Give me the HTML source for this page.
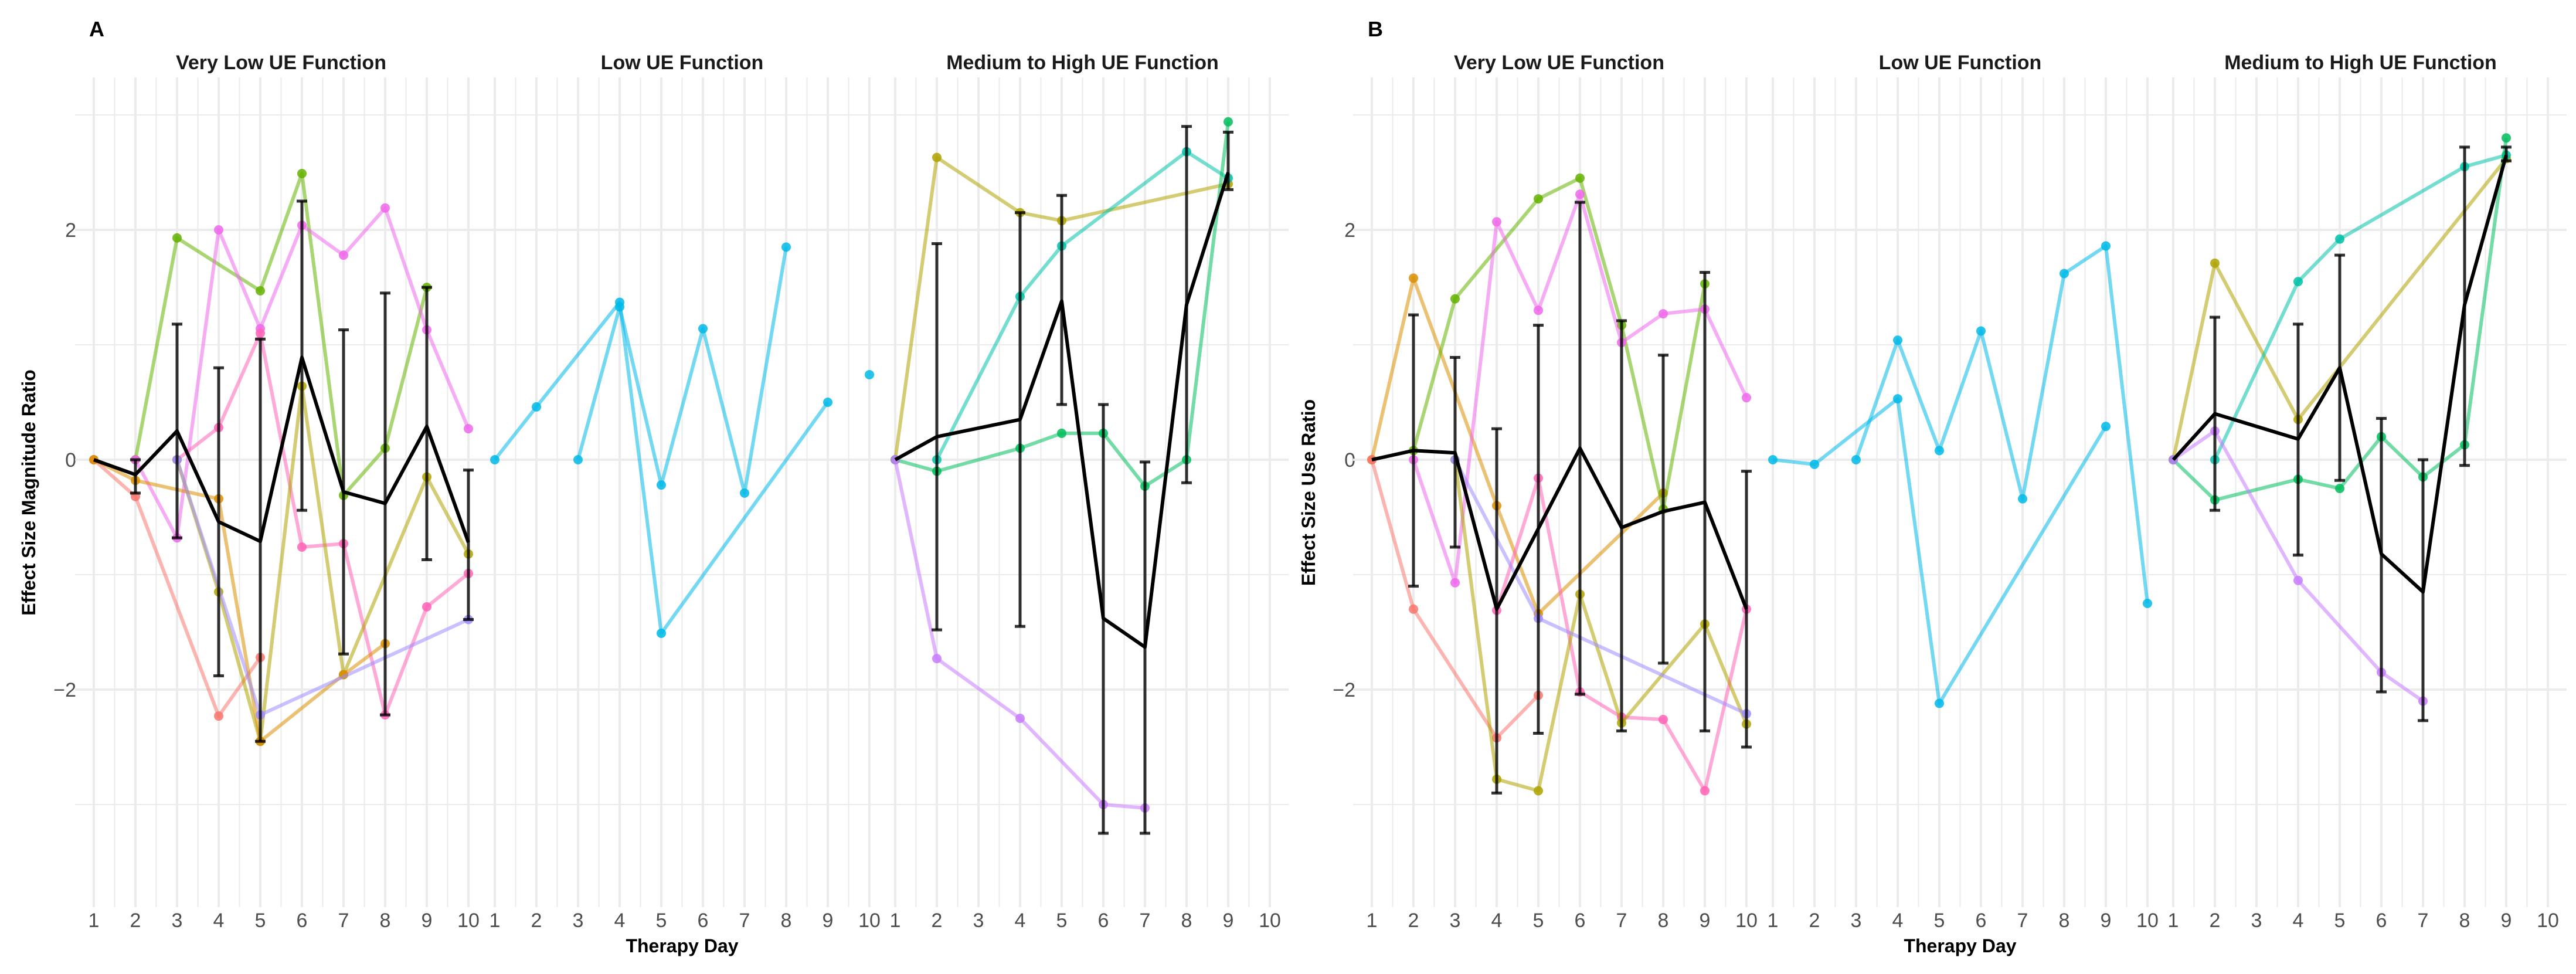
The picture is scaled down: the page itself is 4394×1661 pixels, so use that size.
<!DOCTYPE html>
<html><head><meta charset="utf-8"><style>
html,body{margin:0;padding:0;background:#fff;}
svg{display:block;font-family:"Liberation Sans",sans-serif;}
</style></head><body>
<svg id="chart" width="4394" height="1661" viewBox="0 0 4394 1661" xmlns="http://www.w3.org/2000/svg"></svg>
<script>
const panelLabels = ["A","B"];
const yTitles = ["Effect Size Magnitude Ratio","Effect Size Use Ratio"];
const facetTitles = ["Very Low UE Function","Low UE Function","Medium to High UE Function"];
const dayTicks = [1,2,3,4,5,6,7,8,9,10];
const yTickVals = [-2,0,2];
const yTickLabels = ["\u22122","0","2"];

// Panel A, facet 1
const A1 = [
 {c:"#64B200", d:[2,3,5,6,7,8,9], v:[0,1.93,1.47,2.49,-0.31,0.1,1.5]},
 {c:"#EF67EB", d:[2,3,4,5,6,7,8,9,10], v:[0,-0.68,2.0,1.14,2.04,1.78,2.19,1.13,0.27]},
 {c:"#FF63B6", d:[3,4,5,6,7,8,9,10], v:[0,0.28,1.1,-0.76,-0.73,-2.22,-1.28,-0.99]},
 {c:"#F8766D", d:[1,2,4,5], v:[0,-0.32,-2.23,-1.72]},
 {c:"#AEA200", d:[3,4,5,6,7,9,10], v:[0,-1.15,-2.45,0.64,-1.87,-0.15,-0.82]},
 {c:"#DB8E00", d:[1,2,4,5,7,8], v:[0,-0.18,-0.34,-2.45,-1.87,-1.6]},
 {c:"#9F8CFF", d:[3,5,10], v:[0,-2.22,-1.39]}
];
const A1mean = [0,-0.13,0.25,-0.54,-0.71,0.89,-0.28,-0.38,0.29,-0.72];
const A1lo = [null,-0.29,-0.68,-1.88,-2.45,-0.44,-1.69,-2.22,-0.87,-1.39];
const A1hi = [null,0.0,1.18,0.8,1.05,2.25,1.13,1.45,1.5,-0.09];
const A1days = [1,2,3,4,5,6,7,8,9,10];
// Panel A, facet 2
const A2 = [
 {c:"#00B8E7", d:[1,2,4,5,9], v:[0,0.46,1.37,-1.51,0.5]},
 {c:"#00B8E7", d:[3,4,5,6,7,8], v:[0,1.33,-0.22,1.14,-0.29,1.85]},
 {c:"#00B8E7", d:[10], v:[0.74]}
];
// Panel A, facet 3
const A3 = [
 {c:"#AEA200", d:[1,2,4,5,9], v:[0,2.63,2.15,2.08,2.4]},
 {c:"#00C1A7", d:[2,4,5,8,9], v:[0,1.42,1.86,2.68,2.45]},
 {c:"#00BD5C", d:[1,2,4,5,6,7,8,9], v:[0,-0.1,0.1,0.23,0.23,-0.23,0,2.94]},
 {c:"#C77CFF", d:[1,2,4,6,7], v:[0,-1.73,-2.25,-3.0,-3.03]}
];
const A3days = [1,2,4,5,6,7,8,9];
const A3mean = [0,0.2,0.35,1.38,-1.38,-1.63,1.35,2.5];
const A3lo = [null,-1.48,-1.45,0.48,-3.25,-3.25,-0.2,2.35];
const A3hi = [null,1.88,2.15,2.3,0.48,-0.02,2.9,2.85];
// Panel B, facet 1
const B1 = [
 {c:"#DB8E00", d:[1,2,4,5,8], v:[0,1.58,-0.4,-1.34,-0.29]},
 {c:"#F8766D", d:[1,2,4,5], v:[0,-1.3,-2.42,-2.05]},
 {c:"#64B200", d:[2,3,5,6,7,8,9], v:[0.08,1.4,2.27,2.45,1.17,-0.43,1.53]},
 {c:"#EF67EB", d:[2,3,4,5,6,7,8,9,10], v:[0,-1.07,2.07,1.3,2.31,1.02,1.27,1.31,0.54]},
 {c:"#FF63B6", d:[4,5,6,7,8,9,10], v:[-1.31,-0.16,-2.02,-2.24,-2.26,-2.88,-1.3]},
 {c:"#AEA200", d:[3,4,5,6,7,9,10], v:[0,-2.78,-2.88,-1.17,-2.29,-1.43,-2.3]},
 {c:"#9F8CFF", d:[3,5,10], v:[0,-1.38,-2.21]}
];
const B1days = [1,2,3,4,5,6,7,8,9,10];
const B1mean = [0,0.08,0.06,-1.3,-0.6,0.1,-0.59,-0.45,-0.37,-1.3];
const B1lo = [null,-1.1,-0.76,-2.9,-2.38,-2.04,-2.36,-1.77,-2.36,-2.5];
const B1hi = [null,1.26,0.89,0.27,1.17,2.24,1.21,0.91,1.63,-0.1];
// Panel B, facet 2
const B2 = [
 {c:"#00B8E7", d:[1,2,4,5,9], v:[0,-0.04,0.53,-2.12,0.29]},
 {c:"#00B8E7", d:[3,4,5,6,7,8,9,10], v:[0,1.04,0.08,1.12,-0.34,1.62,1.86,-1.25]}
];
// Panel B, facet 3
const B3 = [
 {c:"#AEA200", d:[1,2,4,9], v:[0,1.71,0.35,2.62]},
 {c:"#00C1A7", d:[2,4,5,8,9], v:[0,1.55,1.92,2.55,2.65]},
 {c:"#00BD5C", d:[1,2,4,5,6,7,8,9], v:[0,-0.35,-0.17,-0.25,0.2,-0.15,0.13,2.8]},
 {c:"#C77CFF", d:[1,2,4,6,7], v:[0,0.25,-1.05,-1.85,-2.1]}
];
const B3days = [1,2,4,5,6,7,8,9];
const B3mean = [0,0.4,0.18,0.8,-0.82,-1.15,1.35,2.65];
const B3lo = [null,-0.44,-0.83,-0.18,-2.02,-2.27,-0.05,2.6];
const B3hi = [null,1.24,1.18,1.78,0.36,0.0,2.72,2.72];

const NS="http://www.w3.org/2000/svg";
const svg=document.getElementById('chart');
function mk(tag,attrs,parent){const e=document.createElementNS(NS,tag);for(const k in attrs)e.setAttribute(k,attrs[k]);(parent||svg).appendChild(e);return e;}
const Y0=784, UNIT=196, DX=71;
function yS(v){return Y0-v*UNIT;}
const facetX0=[[160,844,1527],[2340,3024,3707]];
function xS(p,f,d){return facetX0[p][f]+(d-1)*DX;}

const facets=[[A1,A2,A3],[B1,B2,B3]];
const means=[[{d:A1days,m:A1mean,lo:A1lo,hi:A1hi},null,{d:A3days,m:A3mean,lo:A3lo,hi:A3hi}],
             [{d:B1days,m:B1mean,lo:B1lo,hi:B1hi},null,{d:B3days,m:B3mean,lo:B3lo,hi:B3hi}]];

for(let p=0;p<2;p++){
  const pl=mk('text',{x:p?2333:152,y:62,'font-size':36,'font-weight':'bold',fill:'#000'});
  pl.textContent=panelLabels[p];
  
  
  const yt=mk('text',{x:0,y:0,'font-size':32,'font-weight':'bold','text-anchor':'middle',transform:`translate(${p?2243:60},840) rotate(-90)`});
  yt.textContent=yTitles[p];
  
  
  yTickVals.forEach((v,i)=>{
    const t=mk('text',{x:p?2312:130,y:yS(v)+12,'font-size':34,'text-anchor':'end',fill:'#4d4d4d'});
    t.textContent=yTickLabels[i];
    
    
  });
  const xt=mk('text',{x:xS(p,1,5.5),y:1624,'font-size':32,'font-weight':'bold','text-anchor':'middle'});
  xt.textContent='Therapy Day';
  
  
  for(let f=0;f<3;f++){
    const g=mk('g',{});
    
    
    const xl=xS(p,f,0.55), xr=xS(p,f,10.45);
    for(let v=-3;v<=3;v+=1){
      mk('line',{x1:xl,x2:xr,y1:yS(v),y2:yS(v),stroke:'#ebebeb','stroke-width':(v%2===0)?4:2},g);
    }
    for(let d=1;d<=10;d+=0.5){
      mk('line',{x1:xS(p,f,d),x2:xS(p,f,d),y1:132,y2:1547,stroke:'#ebebeb','stroke-width':(d%1===0)?4:2},g);
    }
    const st=mk('text',{x:xS(p,f,5.5),y:118,'font-size':34,'font-weight':'bold','text-anchor':'middle',fill:'#1a1a1a'},g);
    st.textContent=facetTitles[f];
    
    
    dayTicks.forEach(d=>{
      const t=mk('text',{x:xS(p,f,d),y:1581,'font-size':34,'text-anchor':'middle',fill:'#4d4d4d'},g);
      t.textContent=d;
      
      
    });
    facets[p][f].forEach((s,si)=>{
      const pts=s.d.map((d,i)=>xS(p,f,d)+','+yS(s.v[i])).join(' ');
      if(s.d.length>1){
        const pl2=mk('polyline',{points:pts,fill:'none',stroke:s.c,'stroke-width':6,'stroke-opacity':0.55,'stroke-linejoin':'round'},g);
        
        
      }
      s.d.forEach((d,i)=>{
        const c=mk('ellipse',{cx:xS(p,f,d),cy:yS(s.v[i]),rx:8,ry:8,fill:s.c,'fill-opacity':0.85},g);
        
        
      });
    });
    const m=means[p][f];
    if(m){
      m.d.forEach((d,i)=>{
        if(m.lo[i]===null)return;
        const x=xS(p,f,d);
        const eb=mk('g',{},g);
        
        
        mk('line',{x1:x,x2:x,y1:yS(m.hi[i]),y2:yS(m.lo[i]),stroke:'#000','stroke-opacity':0.8,'stroke-width':5},eb);
        mk('line',{x1:x-9,x2:x+9,y1:yS(m.hi[i]),y2:yS(m.hi[i]),stroke:'#000','stroke-opacity':0.8,'stroke-width':5},eb);
        mk('line',{x1:x-9,x2:x+9,y1:yS(m.lo[i]),y2:yS(m.lo[i]),stroke:'#000','stroke-opacity':0.8,'stroke-width':5},eb);
      });
      const ml=mk('polyline',{points:m.d.map((d,i)=>xS(p,f,d)+','+yS(m.m[i])).join(' '),fill:'none',stroke:'#000','stroke-width':6,'stroke-linejoin':'round'},g);
      
      
    }
  }
}
</script>
</body></html>
